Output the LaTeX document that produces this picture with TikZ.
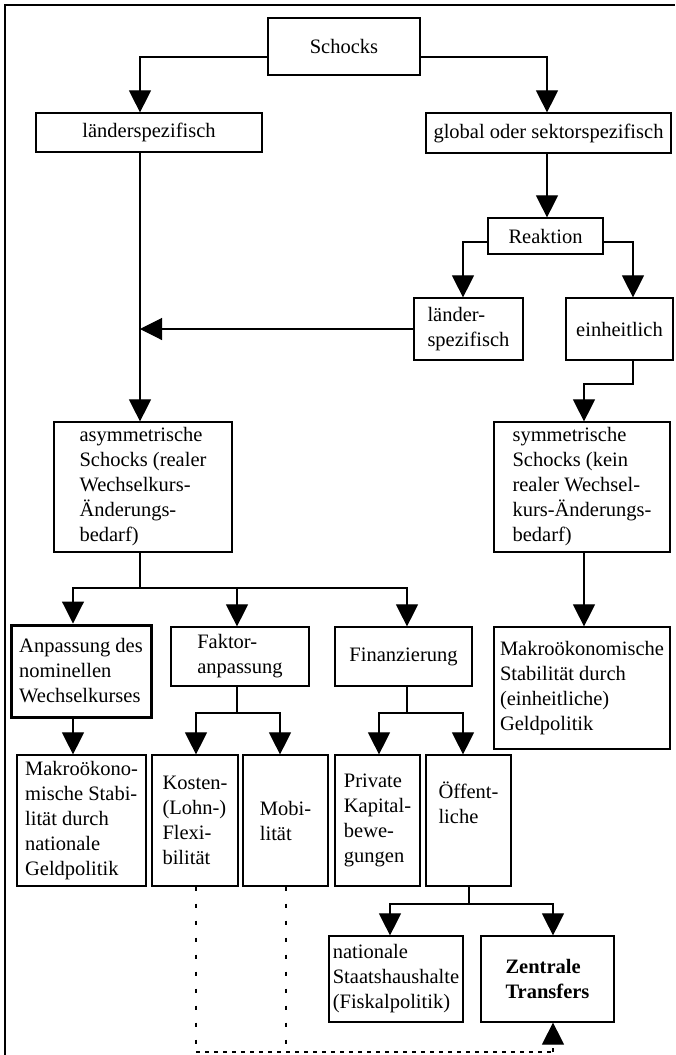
\documentclass[tikz,border=0pt]{standalone}
\usepackage{fontspec}
\setmainfont{Liberation Serif}
\usetikzlibrary{arrows.meta}
\begin{document}
\begin{tikzpicture}[x=1pt,y=-1pt,
  box/.style={draw, line width=1.2pt, inner sep=0pt, align=left,
    font=\fontsize{20.5}{25}\selectfont},
  thickbox/.style={box, line width=3pt},
  conn/.style={line width=1.1pt, -{Triangle[width=22pt,length=22pt]}},
  plain/.style={line width=1.1pt},
  vdash/.style={line width=1.1pt, dash pattern=on 4pt off 13pt},
  hdash/.style={line width=1.1pt, dash pattern=on 4pt off 5pt},
  dconn/.style={line width=1.1pt, dash pattern=on 4pt off 5pt, -{Triangle[width=22pt,length=22pt]}},
  frameline/.style={line width=1.6pt}]
\useasboundingbox (0,0) rectangle (675,1055);
\draw[frameline] (5,1055) -- (5,5) -- (675,5);

% nodes
\node[box, minimum width=152pt, minimum height=57pt] (schocks) at (344,46.5) {Schocks};
\node[box, minimum width=226pt, minimum height=39pt] (laender) at (149,132.5) {länderspezifisch};
\node[box, minimum width=245pt, minimum height=40pt] (global) at (548.5,133) {global oder sektorspezifisch};
\node[box, minimum width=115pt, minimum height=36pt] (reaktion) at (545.5,236) {Reaktion};
\node[box, minimum width=109pt, minimum height=62pt] (lspez) at (468.5,329) {länder-\\spezifisch};
\node[box, minimum width=107pt, minimum height=62pt] (einh) at (619.5,329) {einheitlich};
\node[box, minimum width=178pt, minimum height=130pt] (asym) at (143,487) {asymmetrische\\Schocks (realer\\Wechselkurs-\\Änderungs-\\bedarf)};
\node[box, minimum width=176pt, minimum height=130pt] (sym) at (582,487) {symmetrische\\Schocks (kein\\realer Wechsel-\\kurs-Änderungs-\\bedarf)};
\node[thickbox, minimum width=140pt, minimum height=92pt] (anp) at (81,671) {Anpassung des\\nominellen\\Wechselkurses};
\node[box, minimum width=138pt, minimum height=59pt] (fakt) at (240,656.5) {Faktor-\\anpassung};
\node[box, minimum width=137pt, minimum height=59pt] (finz) at (403.5,656.5) {Finanzierung};
\node[box, minimum width=176pt, minimum height=122pt] (makR) at (582,688) {Makroökonomische\\Stabilität durch\\(einheitliche)\\Geldpolitik};
\node[box, minimum width=129pt, minimum height=131pt] (makL) at (81.5,820.5) {Makroökono-\\mische Stabi-\\lität durch\\nationale\\Geldpolitik};
\node[box, minimum width=86pt, minimum height=131pt] (kost) at (195,820.5) {Kosten-\\(Lohn-)\\Flexi-\\bilität};
\node[box, minimum width=85pt, minimum height=131pt] (mobi) at (285.5,820.5) {Mobi-\\lität};
\node[box, minimum width=85pt, minimum height=131pt] (priv) at (377.5,820.5) {Private\\Kapital-\\bewe-\\gungen};
\node[box, minimum width=85pt, minimum height=131pt] (oeff) at (468.5,820.5) {Öffent-\\liche\\[10pt]};
\node[box, minimum width=134pt, minimum height=86pt] (nat) at (396,979) {nationale\\Staatshaushalte\\(Fiskalpolitik)};
\node[box, minimum width=133pt, minimum height=86pt] (zent) at (547.5,979) {\bfseries Zentrale\\\bfseries Transfers};

% helper coordinates
\coordinate (j1) at (140,57);
\coordinate (j2) at (547,57);
\coordinate (r1) at (463,242);
\coordinate (r2) at (633,242);
\coordinate (e1) at (633,384);
\coordinate (e2) at (584,384);
\coordinate (a0) at (140,588);
\coordinate (a1) at (73,588);
\coordinate (a2) at (237,588);
\coordinate (a3) at (407,588);
\coordinate (f0) at (237,713);
\coordinate (f1) at (196,713);
\coordinate (f2) at (280,713);
\coordinate (g0) at (407,713);
\coordinate (g1) at (379,713);
\coordinate (g2) at (463,713);
\coordinate (o0) at (469,904);
\coordinate (o1) at (390,904);
\coordinate (o2) at (553,904);
\coordinate (d1) at (196,1052);
\coordinate (d2) at (286,1052);
\coordinate (d3) at (553,1052);

% connectors
\draw[conn] (schocks.west |- j1) -- (j1) -- (j1 |- laender.north);
\draw[conn] (schocks.east |- j2) -- (j2) -- (j2 |- global.north);
\draw[conn] (j2 |- global.south) -- (j2 |- reaktion.north);
\draw[conn] (j1 |- laender.south) -- (j1 |- asym.north);
\draw[conn] (lspez.west) -- (j1 |- lspez.west);
\draw[conn] (reaktion.west |- r1) -- (r1) -- (r1 |- lspez.north);
\draw[conn] (reaktion.east |- r2) -- (r2) -- (r2 |- einh.north);
\draw[conn] (e1 |- einh.south) -- (e1) -- (e2) -- (e2 |- sym.north);
\draw[conn] (e2 |- sym.south) -- (e2 |- makR.north);

\draw[plain] (a0 |- asym.south) -- (a0);
\draw[conn] (a0) -- (a1) -- (a1 |- anp.north);
\draw[conn] (a0) -- (a3) -- (a3 |- finz.north);
\draw[conn] (a2) -- (a2 |- fakt.north);
\draw[conn] (a1 |- anp.south) -- (a1 |- makL.north);

\draw[plain] (f0 |- fakt.south) -- (f0);
\draw[conn] (f0) -- (f1) -- (f1 |- kost.north);
\draw[conn] (f0) -- (f2) -- (f2 |- mobi.north);

\draw[plain] (g0 |- finz.south) -- (g0);
\draw[conn] (g0) -- (g1) -- (g1 |- priv.north);
\draw[conn] (g0) -- (g2) -- (g2 |- oeff.north);

\draw[plain] (o0 |- oeff.south) -- (o0);
\draw[conn] (o0) -- (o1) -- (o1 |- nat.north);
\draw[conn] (o0) -- (o2) -- (o2 |- zent.north);

\draw[vdash] (d1 |- kost.south) -- (d1);
\draw[vdash] (d2 |- mobi.south) -- (d2);
\draw[hdash] (d1) -- (d3);
\draw[dconn] (d3) -- (d3 |- zent.south);
\end{tikzpicture}
\end{document}
